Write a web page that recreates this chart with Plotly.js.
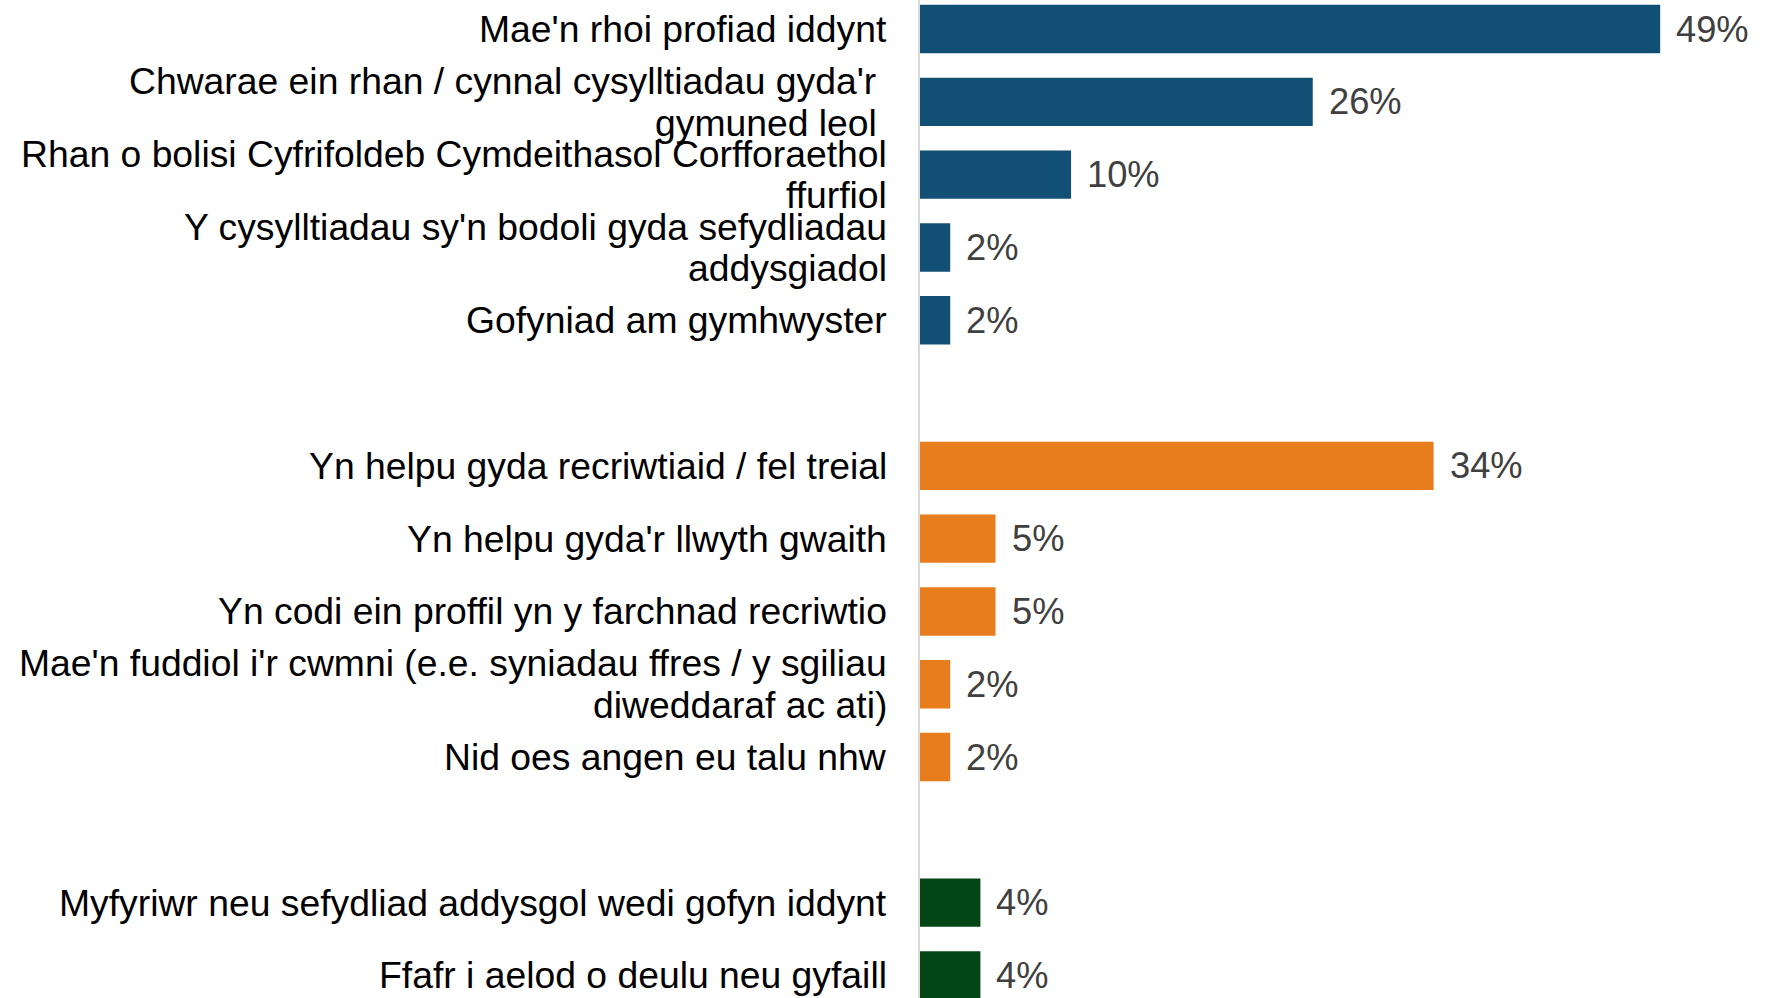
<!DOCTYPE html>
<html><head><meta charset="utf-8">
<script src="https://cdn.plot.ly/plotly-3.0.1.min.js"></script>
<style>html,body{margin:0;padding:0;background:#fff;overflow:hidden}#chart{width:1778px;height:998px;}</style>
</head><body><div id="chart"></div>
<script>
// Categories (labels, '<br>' = line break as in the original)
const categories = [
  "Mae'n rhoi profiad iddynt",
  "Chwarae ein rhan / cynnal cysylltiadau gyda'r\u00A0<br>gymuned leol\u00A0",
  "Rhan o bolisi Cyfrifoldeb Cymdeithasol Corfforaethol<br>ffurfiol",
  "Y cysylltiadau sy'n bodoli gyda sefydliadau<br>addysgiadol",
  "Gofyniad am gymhwyster",
  "Yn helpu gyda recriwtiaid / fel treial",
  "Yn helpu gyda'r llwyth gwaith",
  "Yn codi ein proffil yn y farchnad recriwtio",
  "Mae'n fuddiol i'r cwmni (e.e. syniadau ffres / y sgiliau<br>diweddaraf ac ati)",
  "Nid oes angen eu talu nhw",
  "Myfyriwr neu sefydliad addysgol wedi gofyn iddynt",
  "Ffafr i aelod o deulu neu gyfaill"
];
// Percentages
const values = [49, 26, 10, 2, 2, 34, 5, 5, 2, 2, 4, 4];
// Group of each category
const groups = ["A", "A", "A", "A", "A", "B", "B", "B", "B", "B", "C", "C"];
// Empty spacer rows between groups
const spacers = ["\u200b", "\u200b\u200b"];

const groupColors = {A: "#124f75", B: "#e87d1e", C: "#034614"};

const rowOrder = [];
groups.forEach((g, i) => {
  if (i > 0 && g !== groups[i - 1]) rowOrder.push(spacers[rowOrder.filter(r => spacers.includes(r)).length]);
  rowOrder.push(categories[i]);
});

const labelFont = {family: "Liberation Sans, Arial, sans-serif", size: 37.3, color: "#000000"};
const valueFont = {family: "Liberation Sans, Arial, sans-serif", size: 36.3, color: "#404040"};
const LINE = 41.5;

const annotations = [];
categories.forEach((c, i) => {
  const lines = c.split("<br>");
  lines.forEach((ln, j) => {
    annotations.push({
      x: 0, y: c, xref: "x", yref: "y",
      text: ln, showarrow: false,
      xanchor: "right", yanchor: "middle",
      xshift: -31, yshift: ((lines.length - 1) / 2 - j) * LINE,
      font: labelFont
    });
  });
  annotations.push({
    x: values[i], y: c, xref: "x", yref: "y",
    text: values[i] + "%", showarrow: false,
    xanchor: "left", yanchor: "middle",
    xshift: 14, yshift: 0,
    font: valueFont
  });
});

const trace = {
  type: "bar",
  orientation: "h",
  x: values,
  y: categories,
  marker: {color: groups.map(g => groupColors[g]), line: {width: 0}},
  hoverinfo: "skip",
  showlegend: false
};

const layout = {
  width: 1778, height: 998,
  margin: {l: 920, r: 0, t: 0, b: 0, pad: 0},
  paper_bgcolor: "#ffffff", plot_bgcolor: "#ffffff",
  bargap: 0.335,
  xaxis: {range: [0, 56.8], visible: false, showgrid: false, zeroline: false, fixedrange: true},
  yaxis: {
    type: "category",
    categoryorder: "array",
    categoryarray: rowOrder,
    range: [13.31, -0.399],
    autorange: false,
    showticklabels: false,
    ticks: "",
    showgrid: false,
    zeroline: false,
    showline: true,
    linecolor: "#d9d9d9",
    linewidth: 2,
    fixedrange: true
  },
  annotations: annotations,
  showlegend: false
};

Plotly.newPlot("chart", [trace], layout, {displayModeBar: false, staticPlot: true});
</script>
</body></html>
